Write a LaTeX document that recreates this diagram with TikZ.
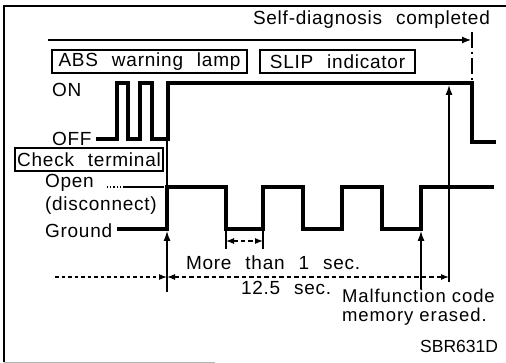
\documentclass[tikz,border=0pt]{standalone}
\usepackage{fontspec}
\setmainfont{Liberation Sans}[LetterSpace=4, WordSpace=2.3]
\newfontfamily\mffont{Liberation Sans}[LetterSpace=5]
\newfontfamily\sbrfont{Liberation Sans}
\usetikzlibrary{arrows.meta}
\begin{document}
\begin{tikzpicture}[x=1pt,y=-1pt,
  txt/.style={font=\fontsize{19}{21}\selectfont, inner sep=0pt, outer sep=0pt},
  wave/.style={line width=3.2pt, line join=miter},
  thinln/.style={line width=1.2pt},
  lampbox/.style={draw, line width=1.5pt, txt, minimum height=23pt, inner sep=0pt},
  dim/.style={line width=1.1pt, dash pattern=on 4.5pt off 3pt},
  tip/.style={-{Latex[length=10pt,width=7pt]}},
  tipb/.style={{Latex[length=8pt,width=6pt]}-{Latex[length=8pt,width=6pt]}},
]
\useasboundingbox (0,0) rectangle (506,363);
% frame
\draw[line width=1.4pt] (506,6) -- (4,6) -- (4,362);
\draw[line width=1pt, black!30] (4,362) -- (215,362);

% self-diagnosis completed
\node[txt, anchor=west] (sd) at (253,20) {Self-diagnosis completed};
\coordinate (sdS) at (48,40);
\coordinate (sdE) at (471,40);
\draw[thinln, {-Latex[length=9pt,width=7pt]}] (sdS) -- (sdE);
\coordinate (endT) at (472,32);
\coordinate (endB) at (472,83);
\draw[thinln, dash pattern=on 16pt off 4pt on 2pt off 4pt] (endT) -- (endB);

% lamp boxes
\node[lampbox, minimum width=195pt] (abs) at (149.5,61.5) {ABS warning lamp};
\node[lampbox, minimum width=155pt] (slip) at (337.5,61.5) {SLIP indicator};

\node[txt, anchor=west] (on) at (52,90) {ON};
\node[txt, anchor=west] (off) at (52,139) {OFF};

% lamp waveform
\draw[wave] (96,139) -- (117,139) -- (117,83) -- (128,83) -- (128,139)
  -- (140,139) -- (140,83) -- (152,83) -- (152,139) -- (168,139)
  -- (168,83) -- (endB) -- (472,142) -- (496,142);

% check terminal
\node[lampbox, minimum width=148pt] (chk) at (89,159.5) {Check terminal};
\node[txt, anchor=west] (open) at (45,183) {Open};
\node[txt, anchor=west] (disc) at (45,206) {(disconnect)};
\node[txt, anchor=west] (gnd) at (45,231) {Ground};
\draw[thinln, dotted] (107,187) -- (121,187);
\draw[thinln] (123,187) -- (164,187);

\draw[wave] (117,229) -- (167,229) -- (167,187) -- (226,187) -- (226,229)
  -- (263,229) -- (263,187) -- (303,187) -- (303,229) -- (342,229)
  -- (342,187) -- (382,187) -- (382,229) -- (421,229) -- (421,187) -- (494,187);

% vertical markers
\coordinate (v1top) at (167,83);
\coordinate (v1tip) at (167,231);
\coordinate (v1bot) at (167,292);
\draw[thinln] (v1top) -- (v1tip);
\draw[thinln, tip] (v1bot) -- (v1tip);

\coordinate (v2tip) at (421,231);
\coordinate (v2bot) at (421,289);
\draw[thinln, tip] (v2bot) -- (v2tip);

\coordinate (v3tip) at (449,85);
\coordinate (v3bot) at (449,282);
\draw[thinln, tip] (v3bot) -- (v3tip);

% more than 1 sec
\coordinate (m1a) at (226,241);
\coordinate (m1b) at (263,241);
\draw[thinln] (226,229) -- (226,249);
\draw[thinln] (263,229) -- (263,249);
\draw[dim, tipb] (m1a) -- (m1b);

% 12.5 sec
\coordinate (d0) at (55,277);
\coordinate (d1) at (167,277);
\coordinate (d2) at (449,277);
\draw[dim, dash pattern=on 3.5pt off 3pt, -{Latex[length=8pt,width=6pt]}] (d0) -- (d1);
\draw[dim, tipb] (d1) -- (d2);

\node[txt, anchor=west] (m1) at (186,263) {More than 1 sec.};
\node[txt, anchor=west] (t125) at (241,288) {12.5 sec.};
\node[txt, anchor=west, align=left, font=\fontsize{18.5}{19}\mffont] (mf) at (342,307) {Malfunction code\\memory erased.};
\node[txt, anchor=east, font=\fontsize{17.5}{20}\sbrfont] (sbr) at (498,346) {SBR631D};
\end{tikzpicture}
\end{document}
